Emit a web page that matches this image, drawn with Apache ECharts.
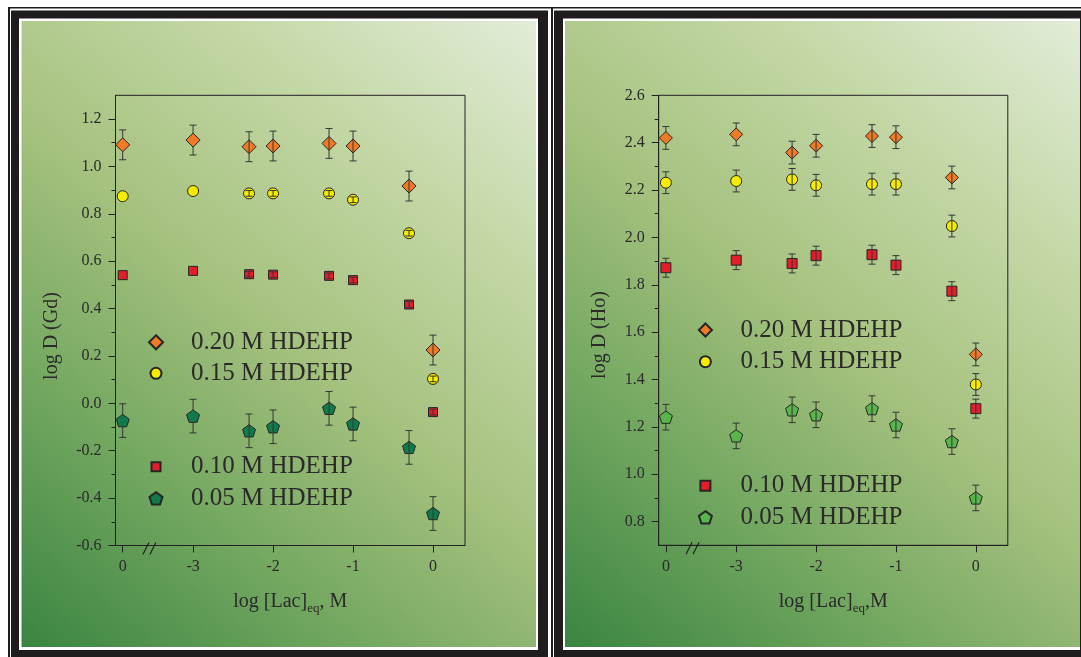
<!DOCTYPE html>
<html>
<head>
<meta charset="utf-8">
<script src="https://cdn.jsdelivr.net/npm/echarts@6/dist/echarts.min.js"></script>
<style>
  html, body { margin: 0; padding: 0; background: #ffffff; }
  #chart { width: 1081px; height: 657px; }
</style>
</head>
<body>
<div id="chart"></div>
<script>
// x positions: first point is the lactate-free run (labelled 0 left of the axis break),
// the rest are log [Lac]eq values
const lacX = [-3.88, -3, -2.3, -2, -1.3, -1, -0.3, 0];
const xTickValues = [-3.88, -3, -2, -1, 0];
const xTickLabels = ['0', '-3', '-2', '-1', '0'];
const breakX = -3.54;

const hdehpLabels = ['0.20 M HDEHP', '0.15 M HDEHP', '0.10 M HDEHP', '0.05 M HDEHP'];

// log D (Gd)
const gd020 = [1.091, 1.111, 1.083, 1.086, 1.097, 1.086, 0.917, 0.225];
const gd015 = [0.874, 0.896, 0.886, 0.886, 0.886, 0.859, 0.718, 0.103];
const gd010 = [0.541, 0.559, 0.545, 0.543, 0.538, 0.520, 0.417, -0.037];
const gd005 = [-0.073, -0.054, -0.116, -0.099, -0.021, -0.087, -0.186, -0.465];
const gdErr = [0.063, 0.012, 0.012, 0.071];

// log D (Ho)
const ho020 = [2.420, 2.435, 2.358, 2.387, 2.428, 2.423, 2.253, 1.506];
const ho015 = [2.231, 2.238, 2.245, 2.220, 2.225, 2.225, 2.048, 1.379];
const ho010 = [1.872, 1.904, 1.890, 1.923, 1.927, 1.883, 1.773, 1.277];
const ho005 = [1.241, 1.162, 1.272, 1.251, 1.277, 1.208, 1.138, 0.900];
const hoErr = [0.048, 0.046, 0.040, 0.054];

// y-axis ticks
const gdTicks = [-0.6, -0.4, -0.2, 0.0, 0.2, 0.4, 0.6, 0.8, 1.0, 1.2];
const gdMinor = [-0.5, -0.3, -0.1, 0.1, 0.3, 0.5, 0.7, 0.9, 1.1];
const hoTicks = [0.8, 1.0, 1.2, 1.4, 1.6, 1.8, 2.0, 2.2, 2.4, 2.6];
const hoMinor = [0.9, 1.1, 1.3, 1.5, 1.7, 1.9, 2.1, 2.3, 2.5];

const SERIF = '"Liberation Serif", "DejaVu Serif", serif';
const INK = '#2a2a2a';
const PENTAGON = 'path://M10,0 L19.51,6.91 L15.88,18.09 L4.12,18.09 L0.49,6.91 Z';

const styles = {
  gd: [
    { symbol: 'diamond', size: 14, color: '#f07a26' },
    { symbol: 'circle',  size: 11, color: '#f6ec00' },
    { symbol: 'rect',    size: 9,  color: '#e41d2b' },
    { symbol: PENTAGON,  size: 13, color: '#117a4b' }
  ],
  ho: [
    { symbol: 'diamond', size: 13, color: '#f07a26' },
    { symbol: 'circle',  size: 11, color: '#f6ec00' },
    { symbol: 'rect',    size: 10, color: '#e41d2b' },
    { symbol: PENTAGON,  size: 13, color: '#58b54b' }
  ]
};

const panels = [
  { key: 'gd', grid: 0, values: [gd020, gd015, gd010, gd005], err: gdErr },
  { key: 'ho', grid: 1, values: [ho020, ho015, ho010, ho005], err: hoErr }
];

function errorBarItem(params, api) {
  const x = api.value(0);
  const lo = api.coord([x, api.value(1)]);
  const hi = api.coord([x, api.value(2)]);
  const w = 3.5;
  const st = { stroke: '#353535', lineWidth: 1 };
  return {
    type: 'group',
    children: [
      { type: 'line', shape: { x1: lo[0], y1: lo[1], x2: hi[0], y2: hi[1] }, style: st },
      { type: 'line', shape: { x1: lo[0] - w, y1: lo[1], x2: lo[0] + w, y2: lo[1] }, style: st },
      { type: 'line', shape: { x1: hi[0] - w, y1: hi[1], x2: hi[0] + w, y2: hi[1] }, style: st }
    ]
  };
}

function breakMarkItem(params, api) {
  const p = api.coord([api.value(0), api.value(1)]);
  const st = { stroke: '#222222', lineWidth: 1.2 };
  return {
    type: 'group',
    children: [
      { type: 'line', shape: { x1: p[0] - 7, y1: p[1] + 9, x2: p[0] - 1, y2: p[1] - 3 }, style: st },
      { type: 'line', shape: { x1: p[0], y1: p[1] + 9, x2: p[0] + 6, y2: p[1] - 3 }, style: st }
    ]
  };
}

const series = [];
panels.forEach(function (pn) {
  pn.values.forEach(function (vals, k) {
    const e = pn.err[k];
    const bars = lacX.map(function (x, i) { return [x, vals[i] - e, vals[i] + e]; });
    // the two leftmost runs have their bars under the marker, the rest over it
    [[bars.slice(0, 2), 2], [bars.slice(2), 4]].forEach(function (part) {
      series.push({
        type: 'custom',
        xAxisIndex: pn.grid,
        yAxisIndex: pn.grid * 2,
        renderItem: errorBarItem,
        encode: { x: 0, y: [1, 2] },
        data: part[0],
        z: part[1],
        silent: true
      });
    });
  });
  pn.values.forEach(function (vals, k) {
    const s = styles[pn.key][k];
    series.push({
      type: 'scatter',
      name: pn.key + ' ' + hdehpLabels[k],
      xAxisIndex: pn.grid,
      yAxisIndex: pn.grid * 2,
      symbol: s.symbol,
      symbolSize: s.size,
      symbolKeepAspect: true,
      itemStyle: { color: s.color, borderColor: '#262626', borderWidth: 1, opacity: 1 },
      data: lacX.map(function (x, i) { return [x, vals[i]]; }),
      z: 3
    });
  });
});
series.push({
  type: 'custom', xAxisIndex: 0, yAxisIndex: 0, renderItem: breakMarkItem,
  data: [[breakX, gdTicks[0]]], clip: false, z: 5, silent: true
});
series.push({
  type: 'custom', xAxisIndex: 1, yAxisIndex: 2, renderItem: breakMarkItem,
  data: [[breakX, 0.7]], clip: false, z: 5, silent: true
});

function xAxisFor(gridIndex, title) {
  return {
    type: 'value', gridIndex: gridIndex, min: -3.97, max: 0.4,
    axisLine: { show: true, onZero: false, lineStyle: { color: '#222', width: 1 } },
    axisTick: { show: true, inside: false, length: 7, customValues: xTickValues, lineStyle: { color: '#222' } },
    axisLabel: {
      customValues: xTickValues, margin: 13, fontFamily: SERIF, fontSize: 16, color: INK,
      formatter: function (v) {
        const i = xTickValues.findIndex(function (t) { return Math.abs(t - v) < 1e-6; });
        return i >= 0 ? xTickLabels[i] : '';
      }
    },
    splitLine: { show: false },
    name: title, nameLocation: 'middle', nameGap: 46,
    nameTextStyle: {
      color: INK, fontFamily: SERIF, fontSize: 20,
      rich: {
        a: { fontFamily: SERIF, fontSize: 20, color: INK, lineHeight: 24, verticalAlign: 'top' },
        b: { fontFamily: SERIF, fontSize: 13, color: INK, lineHeight: 14, verticalAlign: 'bottom', padding: [14, 0, 0, 0] }
      }
    }
  };
}

function yAxesFor(gridIndex, min, max, ticks, minor) {
  return [
    {
      type: 'value', gridIndex: gridIndex, position: 'left', min: min, max: max,
      axisLine: { show: true, onZero: false, lineStyle: { color: '#222', width: 1 } },
      axisTick: { show: true, length: 7, customValues: ticks, lineStyle: { color: '#222' } },
      axisLabel: {
        customValues: ticks, margin: 14, fontFamily: SERIF, fontSize: 16, color: INK,
        formatter: function (v) { return v.toFixed(1); }
      },
      splitLine: { show: false }
    },
    {
      type: 'value', gridIndex: gridIndex, position: 'left', min: min, max: max,
      axisLine: { show: false, onZero: false },
      axisTick: { show: true, length: 4, customValues: minor, lineStyle: { color: '#222' } },
      axisLabel: { show: false },
      splitLine: { show: false }
    }
  ];
}

// one legend component per entry, so each sits where the panel places it
const legends = [];
function addLegend(key, k, cx, cy, textX) {
  const s = styles[key][k];
  const h = s.size;
  legends.push({
    data: [key + ' ' + hdehpLabels[k]],
    orient: 'vertical',
    left: cx - h / 2,
    top: cy - 13,
    padding: 0,
    itemWidth: h,
    itemHeight: h,
    selectedMode: false,
    formatter: function (n) { return n.slice(3); },
    textStyle: {
      fontFamily: SERIF, fontSize: 25, color: INK, lineHeight: 26,
      padding: [0, 0, 0, textX - (cx + h / 2 + 5)]
    }
  });
}
[342.3, 373.3, 466.7, 498.3].forEach(function (y, k) { addLegend('gd', k, 155, y, 190); });
[330.0, 361.7, 485.7, 517.3].forEach(function (y, k) { addLegend('ho', k, 704.4, y, 739.6); });

const bgGradient = {
  type: 'linear', x: 0, y: 1, x2: 1, y2: 0,
  colorStops: [
    { offset: 0.00, color: '#3a8541' },
    { offset: 0.28, color: '#76a962' },
    { offset: 0.50, color: '#a5c17e' },
    { offset: 0.75, color: '#c3d7a5' },
    { offset: 1.00, color: '#e2ecd8' }
  ]
};

function frame(x0, wOuter, xGreen, wGreen, xWhite2, wWhite2) {
  return [
    { type: 'rect', shape: { x: x0, y: 7, width: wOuter, height: 660 }, style: { fill: '#1e1c1d' }, z: -20 },
    { type: 'rect', shape: { x: x0 + 2, y: 8.5, width: wOuter - 4, height: 660 }, style: { fill: '#ffffff' }, z: -19 },
    { type: 'rect', shape: { x: x0 + 3, y: 10.5, width: wOuter - 8, height: 660 }, style: { fill: '#1e1c1d' }, z: -18 },
    { type: 'rect', shape: { x: xWhite2, y: 18.5, width: wWhite2, height: 631.5 }, style: { fill: '#ffffff' }, z: -17 },
    { type: 'rect', shape: { x: xGreen, y: 21, width: wGreen, height: 626 }, style: { fill: bgGradient }, z: -16 }
  ];
}

const graphics = []
  .concat(frame(8, 545, 21.5, 514.5, 19, 519))
  .concat(frame(551, 560, 565, 515, 563, 517))
  .concat([
    { type: 'text', x: 52, y: 336, rotation: Math.PI / 2, z: 10,
      style: { text: 'log D (Gd)', font: '20px ' + SERIF, fill: INK, align: 'center', verticalAlign: 'middle' } },
    { type: 'text', x: 600, y: 335, rotation: Math.PI / 2, z: 10,
      style: { text: 'log D (Ho)', font: '20px ' + SERIF, fill: INK, align: 'center', verticalAlign: 'middle' } }
  ]);

const chart = echarts.init(document.getElementById('chart'), null, { renderer: 'canvas' });
chart.setOption({
  animation: false,
  backgroundColor: '#ffffff',
  graphic: { elements: graphics },
  grid: [
    { left: 115.5, top: 95.3, width: 349.5, height: 450.2, show: true, borderColor: '#222', borderWidth: 1, backgroundColor: 'transparent', containLabel: false },
    { left: 658.7, top: 95.3, width: 349.1, height: 450.0, show: true, borderColor: '#222', borderWidth: 1, backgroundColor: 'transparent', containLabel: false }
  ],
  xAxis: [
    xAxisFor(0, '{a|log [Lac]}{b|eq}{a|, M}'),
    xAxisFor(1, '{a|log [Lac]}{b|eq}{a|,M}')
  ],
  yAxis: yAxesFor(0, -0.6, 1.3, gdTicks, gdMinor).concat(yAxesFor(1, 0.7, 2.6, hoTicks, hoMinor)),
  legend: legends,
  series: series
});
</script>
</body>
</html>
